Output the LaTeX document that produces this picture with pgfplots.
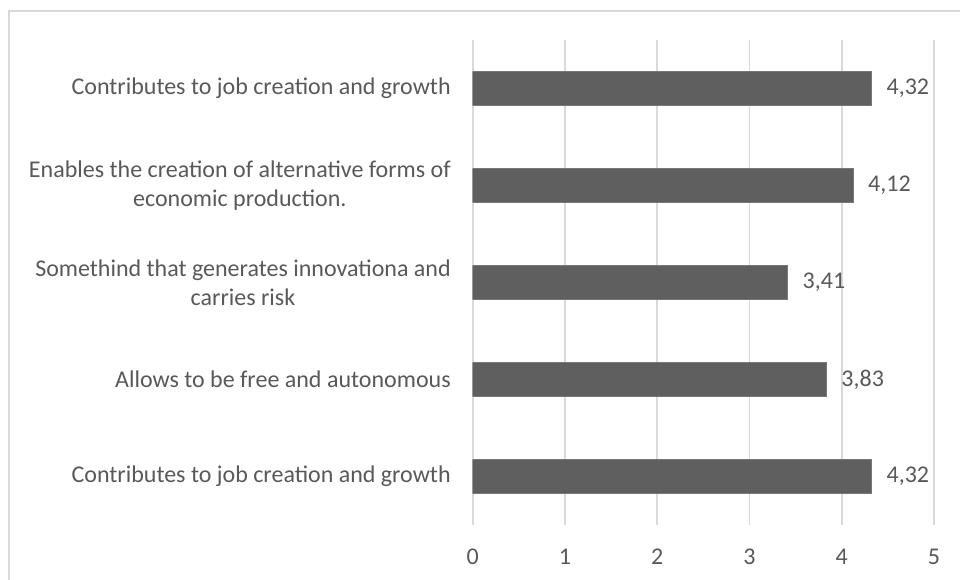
\documentclass[border=0pt]{standalone}
\usepackage{pgfplots}
\pgfplotsset{compat=1.18}
\usepackage{fontspec}
\setmainfont{Carlito}
\definecolor{gridc}{HTML}{D9D9D9}
\definecolor{barc}{HTML}{5F5F5F}
\definecolor{txtc}{HTML}{595959}
\begin{document}
\begin{tikzpicture}
\useasboundingbox (0,0) rectangle (720pt,435pt);
\fill[white] (0,0) rectangle (720pt,435pt);
\draw[color=gridc, line width=1.2pt] (6.75pt,0) -- (6.75pt,426.75pt) -- (720pt,426.75pt);
\begin{axis}[
  at={(354.5pt,41.25pt)}, anchor=south west,
  scale only axis, width=346pt, height=363.75pt,
  xbar, bar width=0.35,
  xmin=0, xmax=5, ymin=-0.5, ymax=4.5,
  xtick={0,1,2,3,4,5},
  ytick={0,1,2,3,4},
  yticklabels={
    {Contributes to job creation and growth},
    {Allows to be free and autonomous},
    {Somethind that generates innovationa and\\carries risk},
    {Enables the creation of alternative forms of\\economic production.},
    {Contributes to job creation and growth}},
  axis line style={draw=none},
  tick style={draw=none},
  xmajorgrids, grid style={color=gridc, line width=1.3pt},
  /pgf/number format/assume math mode=true,
  tick label style={font=\fontsize{18}{21.6}\selectfont, text=txtc},
  yticklabel style={align=center, inner sep=0pt, xshift=-12pt},
  xticklabel style={yshift=-14.5pt},
  nodes near coords,
  nodes near coords style={font=\fontsize{18}{21.6}\selectfont, text=txtc, anchor=west, xshift=8pt,
    /pgf/number format/.cd, fixed, fixed zerofill, precision=2, use comma, assume math mode=true},
]
\addplot[fill=barc, draw=barc!85!white] coordinates {(4.32,0) (3.83,1) (3.41,2) (4.12,3) (4.32,4)};
\end{axis}
\end{tikzpicture}
\end{document}
